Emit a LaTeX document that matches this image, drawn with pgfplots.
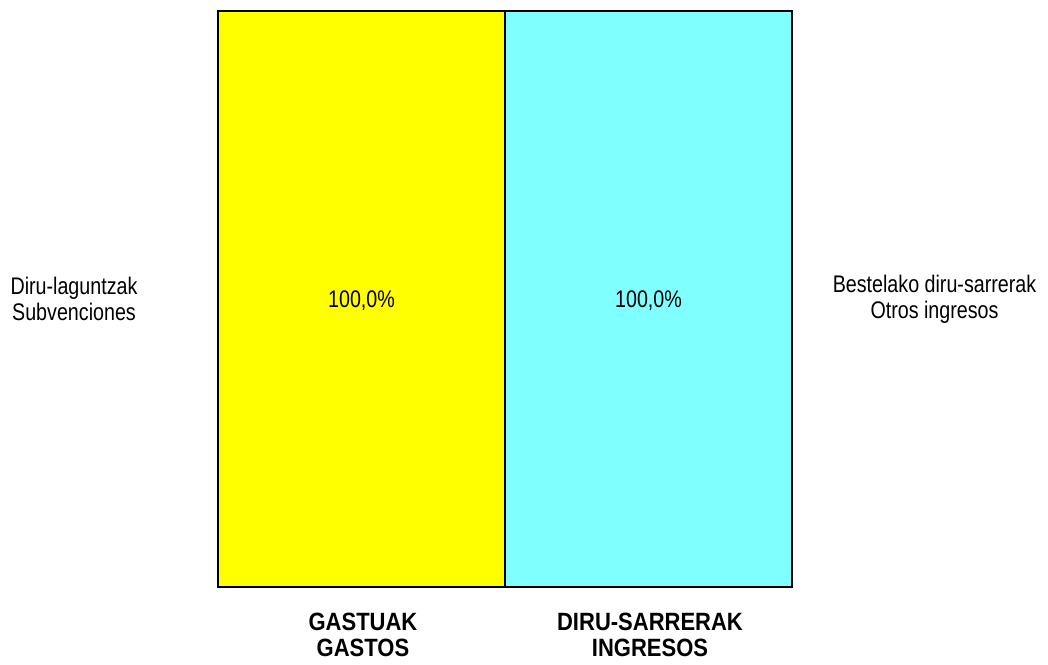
\documentclass[border=0pt]{standalone}
\usepackage{fontspec}
\setmainfont{Liberation Sans}[FakeStretch=0.82, BoldFeatures={FakeStretch=0.88}]
\usepackage{pgfplots}
\pgfplotsset{compat=1.18}
\definecolor{barY}{RGB}{255,255,0}
\definecolor{barC}{RGB}{128,255,255}
\begin{document}
\begin{tikzpicture}
\begin{axis}[
  scale only axis,
  width=574pt, height=576pt,
  xmin=-0.5, xmax=1.5, ymin=0, ymax=100,
  axis lines=none,
  ybar, bar width=1, bar shift=0pt,
  clip=false,
  xtick={0,1},
  xticklabels={GASTUAK\\GASTOS, DIRU-SARRERAK\\INGRESOS},
  ytick=\empty,
  every axis plot/.append style={draw=black, line width=1.6pt},
]
\addplot[fill=barY, draw=black] coordinates {(0,100)};
\addplot[fill=barC, draw=black] coordinates {(1,100)};
\node[font=\fontsize{24}{26}\selectfont] at ([yshift=-2pt]axis cs:0,50) {100,0\%};
\node[font=\fontsize{24}{26}\selectfont] at ([yshift=-2pt]axis cs:1,50) {100,0\%};
\node[font=\fontsize{24}{26}\selectfont, align=center] at ([xshift=-144pt]rel axis cs:0,0.5) {Diru-laguntzak\\Subvenciones};
\node[font=\fontsize{24}{26}\selectfont, align=center] at ([xshift=142.5pt]rel axis cs:1,0.5) {Bestelako diru-sarrerak\\Otros ingresos};
\node[font=\fontsize{25}{26}\selectfont\bfseries, align=center, anchor=north, inner sep=0pt] at ([xshift=1.5pt,yshift=-26pt]axis cs:0,0) {GASTUAK\\GASTOS};
\node[font=\fontsize{25}{26}\selectfont\bfseries, align=center, anchor=north, inner sep=0pt] at ([xshift=1.5pt,yshift=-26pt]axis cs:1,0) {DIRU-SARRERAK\\INGRESOS};
\coordinate (SW) at (rel axis cs:0,0);
\coordinate (NE) at (rel axis cs:1,1);
\end{axis}
\useasboundingbox ([xshift=-218pt,yshift=-77pt]SW) rectangle ([xshift=256pt,yshift=11pt]NE);
\end{tikzpicture}
\end{document}
